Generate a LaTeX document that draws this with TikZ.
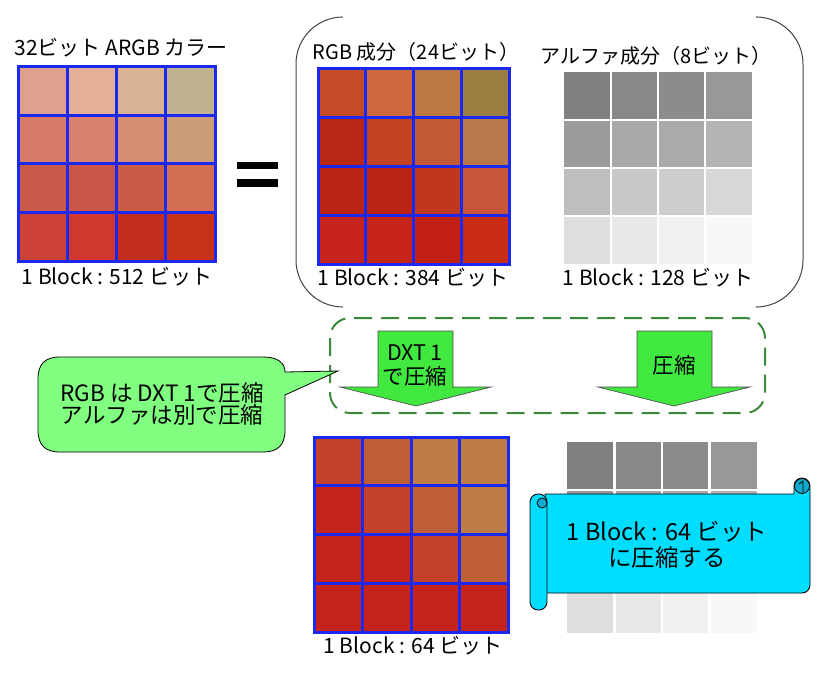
\documentclass[tikz,border=0pt]{standalone}
\usepackage{fontspec}
\setmainfont{Noto Sans CJK JP}
\usepackage{xcolor}
\definecolor{gridblue}{HTML}{1A28F0}
\definecolor{arrowgreen}{HTML}{40E840}
\definecolor{notegreen}{HTML}{80FF80}
\definecolor{zonegreen}{HTML}{3A8A3A}
\definecolor{scrollcyan}{HTML}{00DDFF}
\definecolor{curlcyan}{HTML}{10AACC}
\newcommand{\colorgrid}[5]{%
	\foreach \cc [count=\n from 0] in {#5} {
		\pgfmathtruncatemacro{\row}{\n/4}
		\pgfmathtruncatemacro{\colm}{\n-4*\row}
		\definecolor{cellcol}{HTML}{\cc}
		\fill[cellcol] ({#1+\colm*#3},{#2+\row*#4}) rectangle ++(#3,#4);
	}
}
\newcommand{\gridlines}[5]{%
	\foreach \k in {1,2,3} {
		\draw[#5] ({#1+\k*#3},#2) -- ++(0,{4*#4});
		\draw[#5] (#1,{#2+\k*#4}) -- ++({4*#3},0);
	}
}

\begin{document}
\begin{tikzpicture}[
		x=1pt, y=-1pt,
		label/.style={font=\fontsize{20}{24}\selectfont, inner sep=0pt},
		sizelabel/.style={font=\fontsize{21}{24}\selectfont, inner sep=0pt},
		note/.style={font=\fontsize{22.5}{22}\selectfont, inner sep=0pt, align=center},
		arrowtext/.style={font=\fontsize{21.5}{24}\selectfont, inner sep=0pt, align=center},
		bigger/.style={font=\fontsize{23.5}{26}\selectfont, inner sep=0pt, align=center},
		bluegrid/.style={draw=gridblue, line width=3pt},
		whitegrid/.style={draw=white, line width=2.5pt},
		arrowshape/.style={fill=arrowgreen, draw=black!70, line width=0.7pt},
		bracket/.style={draw=black!75, line width=1pt, rounded corners=47pt},
		zone/.style={draw=zonegreen, line width=2pt, dash pattern=on 18pt off 9pt,
		rounded corners=20pt},
		bubble/.style={fill=notegreen, draw=black, line width=0.8pt},
		scroll/.style={fill=scrollcyan, draw=black, line width=0.9pt},
		curl/.style={fill=curlcyan, draw=black, line width=0.8pt}
		]
		\useasboundingbox (0,0) rectangle (836,674);
		% 32 bit ARGB block
		\colorgrid{18}{67}{49.25}{48.5}{E0A090,E3AF96,DAB294,C1B28F,D67A6A,D9806E,D48C72,CD9D78,C85A4B,C85546,C85C46,D46E52,CD4137,D0372D,C32D1E,C83219}
		\gridlines{18}{67}{49.25}{48.5}{bluegrid}
		\draw[bluegrid] (18,67) rectangle (215,261);
		\node[sizelabel] (argbtitle) at (121,48) {32ビット ARGB カラー};
		\node[sizelabel] (argbsize) at (117,277) {1 Block : 512 ビット};
		% equals sign
		\fill (237,162) rectangle (278,169);
		\fill (237,179) rectangle (278,187);
		% bracket round the two parts
		\draw[bracket] (343,17) -- (296,17) -- (296,307) -- (343,307);
		\draw[bracket] (757,17) -- (803,17) -- (803,307) -- (757,307);
		% RGB part
		\colorgrid{318}{69}{47.75}{48.75}{C34B28,CD693C,BE7846,9B7D41,B92814,C34123,C35A37,B9784B,B92314,BA2314,BE371E,C85537,C8231E,C82319,C32014,C82D14}
		\gridlines{318}{69}{47.75}{48.75}{bluegrid}
		\draw[bluegrid] (318,69) rectangle (509,264);
		\node[label] (rgbtitle) at (416,52) {RGB 成分（24ビット）};
		\node[sizelabel] (rgbsize) at (413,278) {1 Block : 384 ビット};
		% alpha part
		\colorgrid{564}{72}{47}{48}{808080,888888,8C8C8C,989898,9B9B9B,A8A8A8,AAAAAA,B4B4B4,BEBEBE,C8C8C8,CDCDCD,D7D7D7,DEDEDE,E8E8E8,F0F0F0,F8F8F8}
		\gridlines{564}{72}{47}{48}{whitegrid}
		\node[label] (alphatitle) at (656,56) {アルファ成分（8ビット）};
		\node[sizelabel] (alphasize) at (658,278) {1 Block : 128 ビット};
		% compression step
		\draw[zone] (330,318) rectangle (765,413);
		\draw[arrowshape] (378,331) -- (453,331) -- (453,387) -- (491,387)
			-- (416,406) -- (340,387) -- (378,387) -- cycle;
		\draw[arrowshape] (637,331) -- (712,331) -- (712,387) -- (750,387)
			-- (674,406) -- (598,387) -- (637,387) -- cycle;
		\node[arrowtext] (dxtlabel) at (415,365) {DXT 1\\で圧縮};
		\node[arrowtext] (complabel) at (674,365) {圧縮};
		% speech bubble
		\draw[bubble] (60,357) -- (263,357) .. controls (278,357) and (285,363) .. (285,372)
			-- (338,371) -- (285,395) -- (285,430)
			.. controls (285,445) and (278,452) .. (263,452) -- (60,452)
			.. controls (45,452) and (38,445) .. (38,430) -- (38,379)
			.. controls (38,364) and (45,357) .. (60,357) -- cycle;
		\node[note] (note) at (162,404) {RGB は DXT 1で圧縮\\アルファは別で圧縮};
		% compressed blocks
		\colorgrid{314}{437}{48.5}{48.75}{C34128,BE5F37,BE7D46,BE7D46,C3231A,C34128,BE5F37,BE7D46,C3231A,C3231A,C34128,BE5F37,C3231A,C3231A,C3231A,C3231A}
		\gridlines{314}{437}{48.5}{48.75}{bluegrid}
		\draw[bluegrid] (314,437) rectangle (508,632);
		\node[sizelabel] (dxtsize) at (413,646) {1 Block : 64 ビット};
		\colorgrid{567}{442}{47.5}{47.75}{808080,888888,8C8C8C,989898,9B9B9B,A8A8A8,AAAAAA,B4B4B4,BEBEBE,C8C8C8,CDCDCD,D7D7D7,DEDEDE,E8E8E8,F0F0F0,F8F8F8}
		\gridlines{567}{442}{47.5}{47.75}{whitegrid}
		% scroll
		\filldraw[scroll] (545,494) -- (794,494) -- (794,486)
			arc[start angle=180, end angle=360, radius=8] -- (810,585)
			arc[start angle=0, end angle=90, radius=8] -- (545,593) -- cycle;
		\filldraw[curl] (802,486) circle (7.5);
		\draw[line width=0.8pt] (799,484) -- (803,481) -- (803,494);
		\filldraw[scroll, rounded corners=8pt] (530,494) rectangle (547,610);
		\filldraw[curl] (542,503) circle (5);
		\node[bigger] (scrolltext) at (667,545) {1 Block : 64 ビット\\に圧縮する};
	\end{tikzpicture}
\end{document}
